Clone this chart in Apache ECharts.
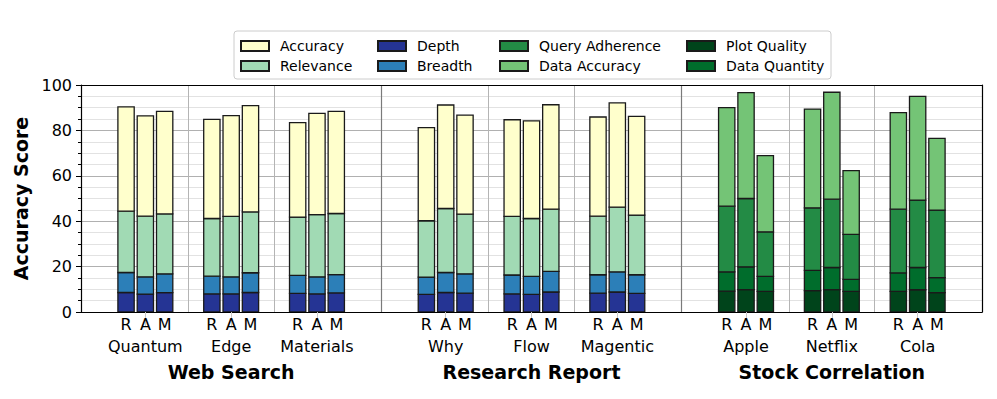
<!DOCTYPE html>
<html><head><meta charset="utf-8">
<script src="https://cdn.jsdelivr.net/npm/echarts@6/dist/echarts.min.js"></script>
<style>html,body{margin:0;padding:0;background:#fff}#c{width:997px;height:399px}</style>
</head><body><div id="c"></div>
<script>
// ---------- data ----------
const groups = ['Web Search', 'Research Report', 'Stock Correlation'];
const groupPos = [1, 4.5, 8];
const subgroups = ['Quantum', 'Edge', 'Materials', 'Why', 'Flow', 'Magentic', 'Apple', 'Netflix', 'Cola'];
const subgroupPos = [0, 1, 2, 3.5, 4.5, 5.5, 7, 8, 9];
const subgroupGroup = [0, 0, 0, 1, 1, 1, 2, 2, 2];
const methods = ['R', 'A', 'M'];
const methodOffset = [-0.225, 0, 0.225];
const yTicks = [0, 20, 40, 60, 80, 100];

// Web Search + Research Report (Quantum..Magentic, each R, A, M)
const depth     = [8.6, 7.9, 8.5,  8.0, 8.0, 8.6,  8.2, 8.0, 8.4,  7.8, 8.6, 8.3,  8.0, 7.8, 8.8,  8.3, 8.8, 8.2];
const breadth   = [8.8, 7.6, 8.3,  7.8, 7.5, 8.7,  7.9, 7.5, 8.1,  7.6, 8.8, 8.5,  8.3, 7.9, 9.1,  8.1, 8.9, 8.2];
const relevance = [27.0, 26.7, 26.4, 25.4, 26.6, 26.8, 25.7, 27.4, 26.9, 24.8, 28.2, 26.3, 25.8, 25.5, 27.4, 25.8, 28.5, 26.3];
const accuracy  = [46.0, 44.2, 45.2, 43.7, 44.4, 46.8, 41.6, 44.6, 45.0, 41.0, 45.6, 43.6, 42.6, 43.0, 46.0, 43.7, 45.9, 43.5];
// Stock Correlation (Apple, Netflix, Cola, each R, A, M)
const plotQuality    = [9.2, 9.9, 9.1,  9.4, 9.9, 9.1,  9.1, 9.8, 8.5];
const dataQuantity   = [8.5, 10.0, 6.6, 8.9, 9.7, 5.3,  8.1, 9.8, 6.6];
const queryAdherence = [28.9, 30.1, 19.6, 27.6, 30.1, 19.8, 28.1, 29.7, 29.8];
const dataAccuracy   = [43.4, 46.6, 33.6, 43.5, 47.1, 28.1, 42.5, 45.7, 31.6];

// ---------- build ----------
const barPos = [];
const barLabel = [];
const barIsStock = [];
subgroupPos.forEach((p, i) => methods.forEach((m, j) => {
  barPos.push(p + methodOffset[j]);
  barLabel.push(m);
  barIsStock.push(subgroupGroup[i] === 2);
}));
const webPos = barPos.filter((x, i) => !barIsStock[i]);
const stockPos = barPos.filter((x, i) => barIsStock[i]);

const FONT = 'DejaVu Sans';
const EDGE = '#1a1a1a';
const BAR_W = 0.19; // bar width in x-axis units

const stacks = [
  { pos: webPos, layers: [['Depth', depth, '#253494'], ['Breadth', breadth, '#2c7fb8'], ['Relevance', relevance, '#a1dab4'], ['Accuracy', accuracy, '#ffffcc']] },
  { pos: stockPos, layers: [['Plot Quality', plotQuality, '#00441b'], ['Data Quantity', dataQuantity, '#006d2c'], ['Query Adherence', queryAdherence, '#238b45'], ['Data Accuracy', dataAccuracy, '#74c476']] }
];

// separators between subgroups
const sepLines = [];
for (let i = 0; i < subgroupPos.length - 1; i++) {
  const mid = (subgroupPos[i] + subgroupPos[i + 1]) / 2;
  const major = subgroupGroup[i] !== subgroupGroup[i + 1];
  sepLines.push({ xAxis: mid, lineStyle: { color: major ? '#7a7a7a' : '#b4b4b4', width: major ? 1.2 : 1, type: 'solid' } });
}

function renderBar(params, api) {
  const x = api.value(0), lo = api.value(1), hi = api.value(2);
  const p0 = api.coord([x, lo]);
  const p1 = api.coord([x, hi]);
  const w = api.size([BAR_W, 0])[0];
  return {
    type: 'rect',
    shape: { x: p0[0] - w / 2, y: p1[1], width: w, height: p0[1] - p1[1] },
    style: api.style()
  };
}

const series = [];
stacks.forEach(st => {
  const base = st.pos.map(() => 0);
  st.layers.forEach(layer => {
    const data = st.pos.map((x, k) => {
      const lo = base[k];
      const hi = lo + layer[1][k];
      base[k] = hi;
      return [x, lo, hi];
    });
    series.push({
      name: layer[0], type: 'custom', renderItem: renderBar, data: data, z: 3,
      encode: { x: 0, y: [1, 2] }, clip: false,
      itemStyle: { color: layer[2], borderColor: EDGE, borderWidth: 1.3 },
      emphasis: { disabled: true }
    });
  });
});
series.push({
  name: 'sep', type: 'line', data: [], silent: true, z: 1,
  markLine: { silent: true, symbol: 'none', label: { show: false }, animation: false, data: sepLines }
});

function nearestIdx(arr, v) {
  let b = 0; for (let i = 1; i < arr.length; i++) if (Math.abs(arr[i] - v) < Math.abs(arr[b] - v)) b = i; return b;
}

const legendCols = [['Accuracy', 'Relevance'], ['Depth', 'Breadth'], ['Query Adherence', 'Data Accuracy'], ['Plot Quality', 'Data Quantity']];
const legendLeft = [240, 377, 499, 686];
const legends = legendCols.map((c, i) => ({
  data: c, orient: 'vertical', left: legendLeft[i], top: 39, itemGap: 6, padding: 0,
  icon: 'rect', itemWidth: 28, itemHeight: 10, selectedMode: false,
  textStyle: { fontFamily: FONT, fontSize: 14, color: '#000', lineHeight: 14, padding: [0, 0, 0, 6] }
}));

const xMin = -0.75, xMax = 9.75;
const option = {
  animation: false,
  grid: { left: 81, right: 15, top: 85, bottom: 87, containLabel: false },
  legend: legends,
  graphic: [{ type: 'rect', shape: { x: 234, y: 31, width: 597, height: 48, r: 3 }, style: { fill: '#fff', stroke: '#cccccc', lineWidth: 1 }, z: -1 }],
  xAxis: [
    { type: 'value', min: xMin, max: xMax, position: 'bottom', z: 5,
      axisLine: { show: true, onZero: false, lineStyle: { color: '#000', width: 1.2 } },
      axisTick: { show: true, customValues: subgroupPos, length: 15, inside: false, lineStyle: { color: '#c8c8c8', width: 1 } },
      axisLabel: { customValues: barPos, margin: 4, fontFamily: FONT, fontSize: 16, color: '#000', formatter: v => barLabel[nearestIdx(barPos, v)] },
      splitLine: { show: false } },
    { type: 'value', min: xMin, max: xMax, position: 'bottom', offset: 21,
      axisLine: { show: false, onZero: false }, axisTick: { show: false },
      axisLabel: { customValues: subgroupPos, margin: 5, fontFamily: FONT, fontSize: 16, color: '#000', formatter: v => subgroups[nearestIdx(subgroupPos, v)] },
      splitLine: { show: false } },
    { type: 'value', min: xMin, max: xMax, position: 'bottom', offset: 45,
      axisLine: { show: false, onZero: false }, axisTick: { show: false },
      axisLabel: { customValues: groupPos, margin: 5, fontFamily: FONT, fontSize: 19, fontWeight: 'bold', color: '#000', formatter: v => groups[nearestIdx(groupPos, v)] },
      splitLine: { show: false } },
    { type: 'value', min: xMin, max: xMax, position: 'top', z: 5,
      axisLine: { show: true, onZero: false, lineStyle: { color: '#000', width: 1.2 } }, axisTick: { show: false }, axisLabel: { show: false }, splitLine: { show: false } }
  ],
  yAxis: [
    { type: 'value', min: yTicks[0], max: yTicks[yTicks.length - 1], interval: yTicks[1] - yTicks[0], z: 0, position: 'left',
      name: 'Accuracy Score', nameLocation: 'middle', nameGap: 47,
      nameTextStyle: { fontFamily: FONT, fontSize: 19, fontWeight: 'bold', color: '#000' },
      axisLine: { show: true, onZero: false, lineStyle: { color: '#000', width: 1.2 } },
      axisTick: { show: true, length: 5, inside: false, lineStyle: { color: '#000' } },
      minorTick: { show: true, splitNumber: 4, length: 3, lineStyle: { color: '#000' } },
      axisLabel: { margin: 9, fontFamily: FONT, fontSize: 16, color: '#000' },
      splitLine: { show: true, lineStyle: { color: '#b0b0b0', width: 1 } },
      minorSplitLine: { show: true, lineStyle: { color: '#e2e2e2', width: 1 } } },
    { type: 'value', min: yTicks[0], max: yTicks[yTicks.length - 1], position: 'right', z: 5,
      axisLine: { show: true, onZero: false, lineStyle: { color: '#000', width: 1.2 } }, axisTick: { show: false }, axisLabel: { show: false }, splitLine: { show: false } }
  ],
  series: series
};
const chart = echarts.init(document.getElementById('c'), null, { renderer: 'svg' });
chart.setOption(option);
</script>
</body></html>
